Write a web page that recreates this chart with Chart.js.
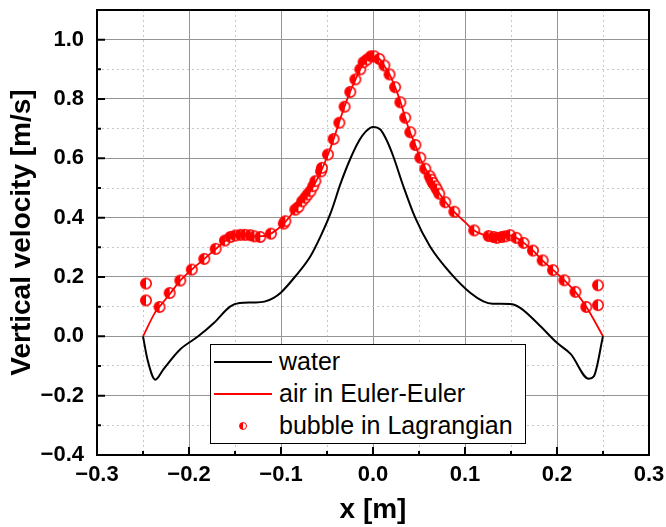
<!DOCTYPE html>
<html>
<head>
<meta charset="utf-8">
<script src="https://cdn.jsdelivr.net/npm/chart.js@4.4.1/dist/chart.umd.min.js"></script>
<style>
  html, body { margin: 0; padding: 0; background: #fff; }
  .wrap { position: relative; width: 666px; height: 527px; }
  .legend {
    position: absolute; left: 210px; top: 344px; width: 316px; height: 100px;
    background: #fff; border: 1.5px solid #000; box-sizing: border-box;
    font-family: "Liberation Sans", Arial, sans-serif; font-size: 25px; color: #000;
  }
  .legend-item { position: absolute; left: 0; width: 100%; height: 30px; }
  .legend-line { position: absolute; left: 3px; width: 58px; top: 14px; }
  .legend-dot {
    position: absolute; left: 28px; top: 11px; width: 6px; height: 6px; border-radius: 50%;
    border: 1.5px solid #f00; background: linear-gradient(to right, #f00 50%, #fff 50%);
  }
  .legend-text { position: absolute; left: 68px; top: -1px; white-space: nowrap; line-height: 30px; }
</style>
</head>
<body>
<div class="wrap">
  <canvas id="velChart" width="666" height="527"></canvas>
  <div class="legend" id="legend"></div>
</div>
<script>
// ── Data ───────────────────────────────────────────────────────────────────────
const waterX = [-0.25, -0.245, -0.2366, -0.228, -0.21, -0.19, -0.173, -0.155, -0.145, -0.13, -0.118, -0.108, -0.1, -0.085,
  -0.068, -0.057, -0.046, -0.035, -0.025, -0.015, -0.008, 0, 0.008, 0.015, 0.022, 0.033, 0.046, 0.062, 0.084, 0.106,
  0.12, 0.13, 0.149, 0.16, 0.182, 0.2, 0.215, 0.2344, 0.24, 0.25];
const waterY = [0, -0.08, -0.146, -0.112, -0.045, 0.0, 0.045, 0.101, 0.112, 0.114, 0.117, 0.13, 0.148, 0.2,
  0.27, 0.337, 0.416, 0.517, 0.596, 0.66, 0.69, 0.706, 0.697, 0.66, 0.607, 0.506, 0.399, 0.303, 0.214, 0.146,
  0.118, 0.11, 0.109, 0.096, 0.034, -0.022, -0.06, -0.143, -0.135, 0];

const airX = [-0.25, -0.236, -0.232, -0.22, -0.21, -0.197, -0.183, -0.17, -0.16, -0.15, -0.14, -0.13, -0.12, -0.11,
  -0.097, -0.085, -0.075, -0.065, -0.056, -0.049, -0.043, -0.037, -0.031, -0.025, -0.019, -0.014, -0.008, -0.002,
  0.002, 0.007, 0.012, 0.018, 0.024, 0.03, 0.035, 0.04, 0.046, 0.051, 0.057, 0.064, 0.072, 0.079, 0.088, 0.1,
  0.11, 0.125, 0.135, 0.149, 0.156, 0.164, 0.174, 0.184, 0.196, 0.208, 0.22, 0.232, 0.25];
const airY = [0, 0.085, 0.1, 0.146, 0.186, 0.225, 0.262, 0.297, 0.323, 0.338, 0.342, 0.338, 0.338, 0.348,
  0.38, 0.425, 0.462, 0.505, 0.56, 0.612, 0.663, 0.72, 0.774, 0.824, 0.866, 0.9, 0.928, 0.942,
  0.942, 0.935, 0.913, 0.883, 0.84, 0.789, 0.737, 0.69, 0.645, 0.602, 0.565, 0.525, 0.482, 0.452, 0.42, 0.385,
  0.357, 0.338, 0.333, 0.34, 0.332, 0.315, 0.289, 0.256, 0.223, 0.189, 0.15, 0.099, 0];

const bubbleX = [-0.2468, -0.2468, -0.232, -0.221, -0.2095, -0.197, -0.1834, -0.171, -0.161, -0.155, -0.1497, -0.144,
  -0.139, -0.1334, -0.129, -0.1225, -0.111, -0.097, -0.0953, -0.0845, -0.081, -0.077, -0.0736, -0.071, -0.068,
  -0.065, -0.0627, -0.0565, -0.0555, -0.049, -0.0428, -0.0366, -0.0309, -0.0247, -0.0192, -0.0138, -0.0102,
  -0.0065, -0.0022, 0.0014, 0.0068, 0.0123, 0.018, 0.024, 0.0297, 0.035, 0.0405, 0.046, 0.0514, 0.0568, 0.0616,
  0.0634, 0.0652, 0.0677, 0.0696, 0.072, 0.0786, 0.0884, 0.11, 0.1257, 0.131, 0.1348, 0.14, 0.1438, 0.149,
  0.1558, 0.1637, 0.1739, 0.1844, 0.1957, 0.208, 0.22, 0.2318, 0.2446, 0.2446];
const bubbleY = [0.178, 0.121, 0.099, 0.146, 0.188, 0.225, 0.261, 0.295, 0.323, 0.335, 0.34, 0.342,
  0.342, 0.341, 0.337, 0.335, 0.346, 0.38, 0.388, 0.427, 0.436, 0.455, 0.467, 0.478, 0.489,
  0.506, 0.523, 0.556, 0.568, 0.613, 0.665, 0.72, 0.774, 0.824, 0.866, 0.9, 0.924,
  0.933, 0.944, 0.944, 0.935, 0.913, 0.883, 0.84, 0.789, 0.737, 0.688, 0.645, 0.602, 0.565, 0.54,
  0.528, 0.517, 0.506, 0.495, 0.481, 0.452, 0.42, 0.357, 0.338, 0.335, 0.332, 0.335, 0.337, 0.341,
  0.332, 0.315, 0.289, 0.256, 0.223, 0.189, 0.15, 0.099, 0.172, 0.105];

const SERIES = [
  { label: 'water',                xs: waterX,  ys: waterY,  color: '#000000', kind: 'line', width: 2 },
  { label: 'air in Euler-Euler',   xs: airX,    ys: airY,    color: '#ff0000', kind: 'line', width: 1.8 },
  { label: 'bubble in Lagrangian', xs: bubbleX, ys: bubbleY, color: '#ff0000', kind: 'dot' },
];

const X_RANGE = [-0.3, 0.3];
const Y_RANGE = [-0.4, 1.1];
const TICK_FONT = { family: '"Liberation Sans", Arial, sans-serif', size: 22, weight: 'bold' };
const TITLE_FONT = { family: '"Liberation Sans", Arial, sans-serif', size: 28, weight: 'bold' };

// ── helpers ────────────────────────────────────────────────────────────────────
const pts = (xs, ys) => xs.map((x, i) => ({ x, y: ys[i] }));
const onStep = (v, step) => Math.abs(v / step - Math.round(v / step)) < 1e-6;
const fmt = v => Math.abs(v) < 1e-9 ? '0.0' : v.toFixed(1).replace('-', '\u2212');

// half-filled marker (left half solid, right half white)
function halfDot(r, color) {
  const c = document.createElement('canvas');
  const s = Math.ceil(r * 2 + 3);
  c.width = s; c.height = s;
  const g = c.getContext('2d');
  const m = s / 2;
  g.fillStyle = '#fff';
  g.beginPath(); g.arc(m, m, r, 0, Math.PI * 2); g.fill();
  g.fillStyle = color;
  g.beginPath(); g.arc(m, m, r, Math.PI / 2, Math.PI * 1.5); g.closePath(); g.fill();
  g.strokeStyle = color; g.lineWidth = 1.6;
  g.beginPath(); g.arc(m, m, r, 0, Math.PI * 2); g.stroke();
  return c;
}

// ── inward ticks + frame ───────────────────────────────────────────────────────
const framePlugin = {
  id: 'frame',
  afterDatasetsDraw(chart) {
    const { ctx, chartArea: a, scales } = chart;
    ctx.save();
    ctx.strokeStyle = '#000';
    ctx.lineWidth = 2;
    ctx.strokeRect(a.left, a.top, a.right - a.left, a.bottom - a.top);
    ctx.beginPath();
    scales.x.ticks.forEach(t => {
      const px = scales.x.getPixelForValue(t.value);
      const len = onStep(t.value, 0.1) ? 8 : 4;
      ctx.moveTo(px, a.bottom); ctx.lineTo(px, a.bottom - len);
    });
    scales.y.ticks.forEach(t => {
      const py = scales.y.getPixelForValue(t.value);
      const len = onStep(t.value, 0.2) ? 8 : 4;
      ctx.moveTo(a.left, py); ctx.lineTo(a.left + len, py);
    });
    ctx.stroke();
    ctx.restore();
  },
};

// ── Chart ──────────────────────────────────────────────────────────────────────
const dot = halfDot(5.2, '#ff0000');

const datasets = SERIES.map(s => s.kind === 'line' ? {
  label: s.label,
  data: pts(s.xs, s.ys),
  showLine: true,
  borderColor: s.color,
  borderWidth: s.width,
  pointRadius: 0,
  cubicInterpolationMode: 'monotone',
} : {
  label: s.label,
  data: pts(s.xs, s.ys),
  showLine: false,
  pointStyle: dot,
  pointRadius: 5,
});

const gridOpts = major => ({
  drawTicks: false,
  color: ctx => ctx.tick && major(ctx.tick.value) ? '#959595' : '#c8c8c8',
  lineWidth: 1,
});

new Chart(document.getElementById('velChart'), {
  type: 'scatter',
  data: { datasets },
  options: {
    responsive: false,
    animation: false,
    layout: { padding: { top: 10, right: 17, left: 0, bottom: 0 } },
    plugins: { legend: { display: false }, tooltip: { enabled: false } },
    scales: {
      x: {
        type: 'linear', min: X_RANGE[0], max: X_RANGE[1],
        grid: gridOpts(v => onStep(v, 0.1)),
        border: { display: false, dash: ctx => ctx.tick && !onStep(ctx.tick.value, 0.1) ? [2, 3] : [] },
        ticks: {
          stepSize: 0.05, autoSkip: false, maxRotation: 0, padding: 7,
          color: '#000', font: TICK_FONT,
          callback: v => onStep(v, 0.1) ? fmt(v) : '',
        },
        title: { display: true, text: 'x [m]', color: '#000', font: TITLE_FONT, padding: { top: 0, bottom: 0 } },
        afterFit: s => { s.height = 72; s.paddingLeft = 0; s.paddingRight = 0; },
      },
      y: {
        type: 'linear', min: Y_RANGE[0], max: Y_RANGE[1],
        grid: gridOpts(v => onStep(v, 0.2)),
        border: { display: false, dash: ctx => ctx.tick && !onStep(ctx.tick.value, 0.2) ? [2, 3] : [] },
        ticks: {
          stepSize: 0.1, autoSkip: false, padding: 13,
          color: '#000', font: TICK_FONT,
          callback: v => onStep(v, 0.2) ? fmt(v) : '',
        },
        title: { display: true, text: 'Vertical velocity [m/s]', color: '#000', font: TITLE_FONT, padding: { top: 5, bottom: 0 } },
        afterFit: s => { s.width = 97; s.paddingTop = 0; s.paddingBottom = 0; },
      },
    },
  },
  plugins: [framePlugin],
});

// ── Legend ─────────────────────────────────────────────────────────────────────
function renderLegend() {
  const el = document.getElementById('legend');
  el.innerHTML = SERIES.map((s, i) => {
    const sample = s.kind === 'line'
      ? `<span class="legend-line" style="height:${s.width}px;background:${s.color}"></span>`
      : `<span class="legend-dot"></span>`;
    return `<div class="legend-item" style="top:${2 + i * 32}px">${sample}<span class="legend-text">${s.label}</span></div>`;
  }).join('');
}
renderLegend();
</script>
</body>
</html>
